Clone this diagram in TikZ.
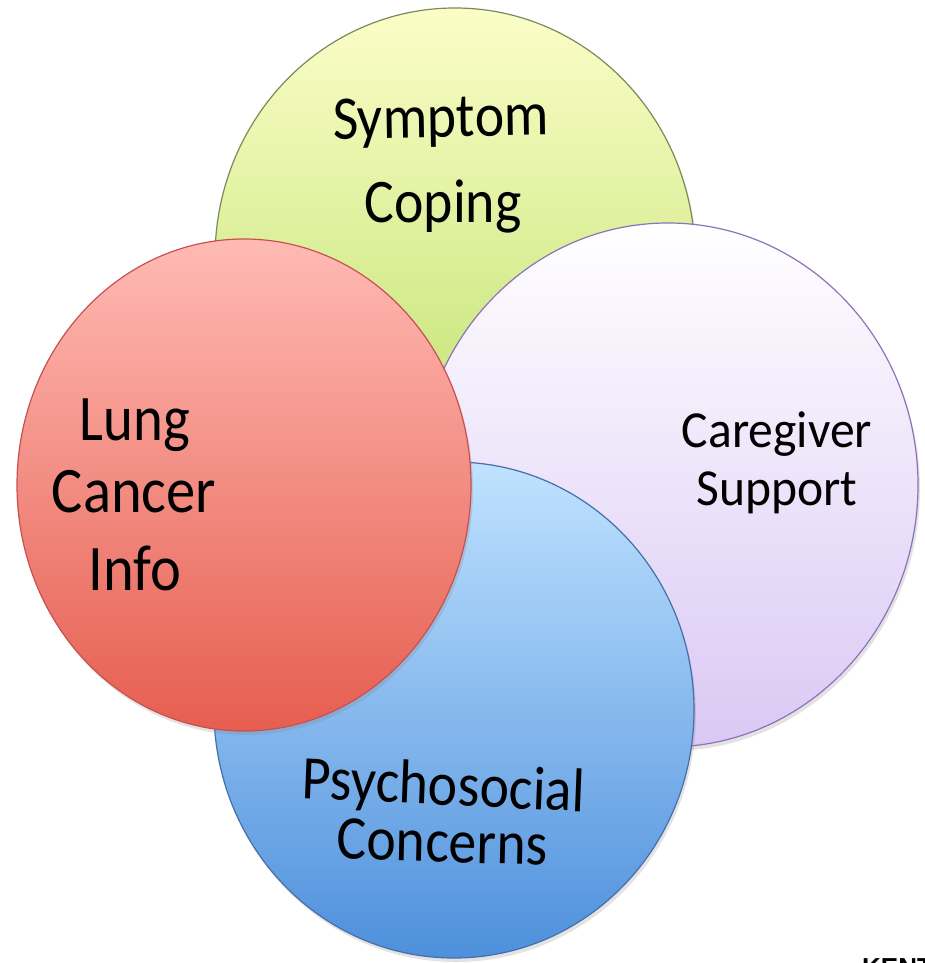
\documentclass[tikz,border=0pt]{standalone}
\usepackage{fontspec}
\setmainfont{Carlito}
\newfontfamily\kentfont{Liberation Sans}
\usetikzlibrary{shapes.geometric,shadows}
\definecolor{gtop}{RGB}{252,253,200}
\definecolor{gbot}{RGB}{186,224,104}
\definecolor{gline}{RGB}{120,140,90}
\definecolor{ptop}{RGB}{255,255,255}
\definecolor{pbot}{RGB}{218,200,244}
\definecolor{pline}{RGB}{140,115,185}
\definecolor{btop}{RGB}{192,226,255}
\definecolor{bbot}{RGB}{78,144,220}
\definecolor{bline}{RGB}{70,110,170}
\definecolor{rtop}{RGB}{255,186,180}
\definecolor{rbot}{RGB}{230,94,80}
\definecolor{rline}{RGB}{200,80,80}
\newcommand{\fsz}[1]{\fontsize{#1}{#1}\selectfont}
\tikzset{
  blob/.style={ellipse, inner sep=0pt, line width=1.2pt,
    drop shadow={shadow xshift=2pt, shadow yshift=-4pt, opacity=0.22}},
  lbl/.style={anchor=base, inner sep=0pt, text=black, xscale=0.9}
}
\begin{document}
\begin{tikzpicture}[x=1pt,y=-1pt]
\useasboundingbox (0,0) rectangle (924,963);
\clip (0,0) rectangle (924,963);
\fill[white] (0,0) rectangle (924,963);
% circles
\node[blob, minimum width=480pt, minimum height=500pt, top color=gtop, bottom color=gbot, draw=gline] (green) at (455,258) {};
\node[blob, minimum width=500pt, minimum height=524pt, top color=ptop, bottom color=pbot, draw=pline] (purple) at (668,485) {};
\node[blob, minimum width=480pt, minimum height=496pt, top color=btop, bottom color=bbot, draw=bline] (blue) at (454,710) {};
\node[blob, minimum width=454pt, minimum height=492pt, top color=rtop, bottom color=rbot, draw=rline] (red) at (244,485) {};
% labels
\node[lbl, font=\fsz{62}, rotate=1] (sym) at (441,137) {Symptom};
\node[lbl, font=\fsz{62}] (cop) at (443,222) {Coping};
\node[lbl, font=\fsz{65}, xscale=0.97] (lung) at (135,440) {Lung};
\node[lbl, font=\fsz{65}] (canc) at (134,512) {Cancer};
\node[lbl, font=\fsz{65}] (info) at (135,590) {Info};
\node[lbl, font=\fsz{52}, xscale=1.06] (care) at (777,447) {Caregiver};
\node[lbl, font=\fsz{52}, xscale=1.06] (supp) at (777,505) {Support};
\node[lbl, font=\fsz{62}, rotate=-2.5] (psy) at (443,805) {Psychosocial};
\node[lbl, font=\fsz{62}, rotate=-1.5] (conc) at (442,862) {Concerns};
\node[anchor=base west, inner sep=0pt, font=\kentfont\bfseries\fsz{26}] (kent) at (862,976) {KENT};
\end{tikzpicture}
\end{document}
